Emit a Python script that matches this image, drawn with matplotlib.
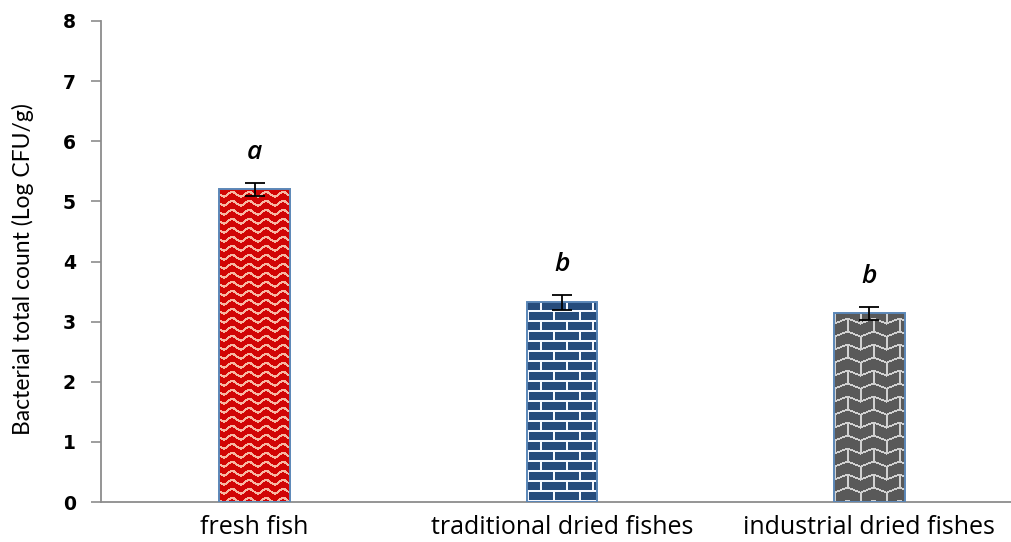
import numpy as np
import matplotlib
matplotlib.use("Agg")
import matplotlib.pyplot as plt

categories = ["fresh fish", "traditional dried fishes", "industrial dried fishes"]
values = [5.2, 3.32, 3.14]
errors = [0.11, 0.13, 0.11]
letters = ["a", "b", "b"]
yticks = [0, 1, 2, 3, 4, 5, 6, 7, 8]

W, H = 1011, 542
AXW = 922
fig = plt.figure(figsize=(W / 100, H / 100), dpi=100)
ax = fig.add_axes([101 / W, 40 / H, AXW / W, 481 / H])

x = np.arange(len(categories))
bw = 0.23
bars = ax.bar(x, values, width=bw, color=["#C00000", "#1F4E79", "#595959"],
              edgecolor="#5B87B8", linewidth=1.4, zorder=2)
ax.set_xlim(-0.5, 2.5)
ax.set_ylim(0, 8)

px_x = 3.0 / AXW
px_y = 8.0 / 481


def texture(kind, nw, nh):
    jj, ii = np.meshgrid(np.arange(nw), np.arange(nh))
    img = np.zeros((nh, nw, 3))
    yy = (nh - 1 - ii).astype(float)
    if kind == "wave":
        bg = np.array([0.82, 0.02, 0.02])
        fg = np.array([0.97, 0.72, 0.64])
        phase = (yy + 2.2 * np.sin(2 * np.pi * jj / 17.0)) % 9.0
        mask = phase < 2.6
    elif kind == "brick":
        bg = np.array([0.15, 0.30, 0.49])
        fg = np.array([0.97, 0.98, 1.0])
        yi = yy.astype(int)
        row = yi // 10
        mask = (yi % 10) < 2
        off = np.where(row % 2 == 0, 0, 13)
        mask = mask | (((jj + off) % 26) < 2)
    else:
        bg = np.array([0.35, 0.35, 0.35])
        fg = np.array([0.82, 0.82, 0.82])
        P = 26.0
        tri = np.abs(((jj / (P / 2)) % 2) - 1) * 5.0
        yv = yy + tri
        row = np.floor(yv / 13.0)
        mask = (yv % 13.0) < 2.0
        off = np.where(row % 2 == 0, 0, P / 2)
        mask = mask | ((((jj + off) % P)) < 2.0)
    img[:] = bg
    img[mask] = fg
    return img


kinds = ["wave", "brick", "scale"]
for b, kind in zip(bars, kinds):
    x0, y0 = b.get_x(), b.get_y()
    w, h = b.get_width(), b.get_height()
    nw = int(round(w / px_x))
    nh = int(round(h / px_y))
    im = ax.imshow(texture(kind, nw, nh), extent=(x0, x0 + w, y0, y0 + h),
                   aspect="auto", interpolation="bilinear", zorder=2.5)
    im.set_clip_path(b)
    b.set_facecolor("none")
    b.set_zorder(3)

ax.errorbar(x, values, yerr=errors, fmt="none", ecolor="black",
            elinewidth=1.3, capsize=7.5, capthick=1.3, zorder=4)

for xi, v, e, lt in zip(x, values, errors, letters):
    ax.text(xi, v + e + 0.3, lt, ha="center", va="bottom", fontsize=19,
            style="italic", fontweight="semibold", family="Open Sans", color="black")

for s in ["top", "right"]:
    ax.spines[s].set_visible(False)
for s in ["left", "bottom"]:
    ax.spines[s].set_color("#8C8C8C")
    ax.spines[s].set_linewidth(1.3)

ax.set_yticks(yticks)
ax.set_yticklabels([str(t) for t in yticks], fontsize=13.5, fontweight="bold",
                   family="DejaVu Sans")
ax.tick_params(axis="y", length=7, width=1.2, color="#8C8C8C", pad=11)
ax.set_xticks(x)
ax.set_xticklabels(categories, fontsize=18, family="Open Sans")
ax.tick_params(axis="x", length=0, pad=9)
ax.set_ylabel("Bacterial total count (Log CFU/g)", fontsize=16.5, family="Lato")
ax.yaxis.set_label_coords(-(101 - 34) / AXW, 0.485)

fig.savefig("out.png", dpi=100)
